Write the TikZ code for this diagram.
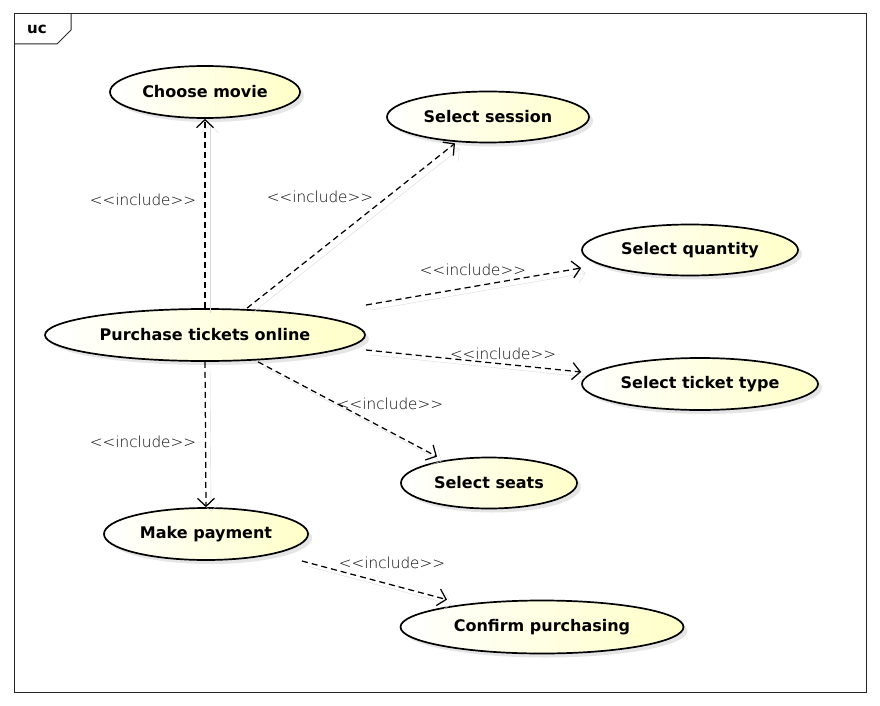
\documentclass[tikz,border=0pt]{standalone}
\usepackage{fontspec}
\setmainfont{DejaVu Sans}
\newfontfamily\lightfont{DejaVu Sans ExtraLight}
\usetikzlibrary{shapes.geometric,arrows.meta,shadows}
\definecolor{ucyellow}{RGB}{255,255,200}
\tikzset{
  usecase/.style={ellipse, draw, line width=1.7pt, inner sep=0pt,
    left color=white, right color=ucyellow,
    drop shadow={shadow xshift=4pt, shadow yshift=-4pt, fill=black!20},
    font=\fontsize{16}{19}\selectfont\bfseries},
  incl/.style={dash pattern=on 6pt off 4pt, line width=1.25pt,
    -{Straight Barb[length=8pt,width=17pt,line width=1.25pt]},
    preaction={draw=black!15, solid, transform canvas={shift={(5pt,-5pt)}}}},
  stereo/.style={font=\lightfont\fontsize{15.2}{18}\selectfont, inner sep=1pt}
}
\begin{document}
\begin{tikzpicture}[x=1pt,y=-1pt]
 \useasboundingbox (0,0) rectangle (880,706);
 \draw[black!85, line width=1pt] (14,14) rectangle (866,692);
 \draw[black!85, line width=1pt] (14,44) -- (57,44) -- (71,30) -- (71,14);
 \node[font=\fontsize{15}{18}\selectfont\bfseries] (uc) at (37,29) {uc};
          \begin{scope}[every node/.style={usecase}]
          \node[minimum width=190pt, minimum height=52pt] (movie) at (205,92) {Choose movie};
          \node[minimum width=202pt, minimum height=51pt] (session) at (488,117) {Select session};
          \node[minimum width=216pt, minimum height=51pt] (quantity) at (690,250) {Select quantity};
          \node[minimum width=320pt, minimum height=52pt] (purchase) at (205,335) {Purchase tickets online};
          \node[minimum width=236pt, minimum height=52pt] (ticket) at (700,384) {Select ticket type};
          \node[minimum width=176pt, minimum height=51pt] (seats) at (489,483) {Select seats};
          \node[minimum width=204pt, minimum height=52pt] (payment) at (206,534) {Make payment};
          \node[minimum width=283pt, minimum height=53pt] (confirm) at (542,627) {Confirm purchasing};
          \end{scope}
          \draw[incl] (purchase.north) -- (movie.south);
          \draw[incl] ([xshift=42pt]purchase.north) -- ([xshift=-33pt]session.south);
          \draw[incl] ([shift={(161pt,30pt)}]purchase.center) -- ([yshift=-18pt]quantity.west);
          \draw[incl] ([yshift=-15pt]purchase.east) -- ([yshift=12pt]ticket.west);
          \draw[incl] ([xshift=53pt]purchase.south) -- ([xshift=-52pt]seats.north);
          \draw[incl] (purchase.south) -- (payment.north);
          \draw[incl] ([shift={(96pt,-27pt)}]payment.center) -- ([xshift=-95pt]confirm.north);
          \begin{scope}[every node/.style={stereo}]
          \node (incmovie) at (143,200) {<<include>>};
          \node (incsession) at (320,197) {<<include>>};
          \node (incquantity) at (473,270) {<<include>>};
          \node (incticket) at (503,354) {<<include>>};
          \node (incseats) at (390,404) {<<include>>};
          \node (incpayment) at (143,442) {<<include>>};
          \node (incconfirm) at (392,563) {<<include>>};
          \end{scope}
\end{tikzpicture}
\end{document}
